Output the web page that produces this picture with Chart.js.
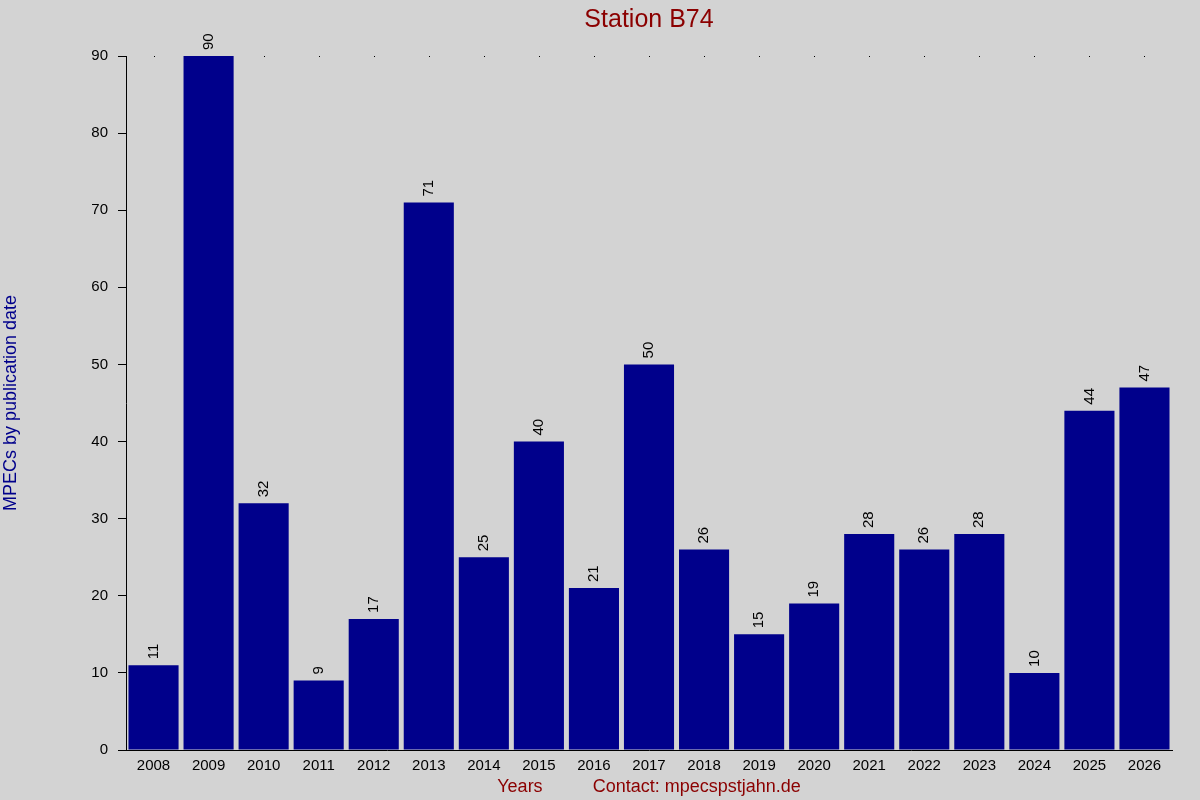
<!DOCTYPE html>
<html>
<head>
<meta charset="utf-8">
<title>Station B74</title>
<script src="https://cdn.jsdelivr.net/npm/chart.js@4"></script>
<style>
  html, body { margin: 0; padding: 0; background: #d3d3d3; }
  #wrap { width: 1200px; height: 800px; }
</style>
</head>
<body>
<div id="wrap"><canvas id="mpecChart" width="1200" height="800"></canvas></div>
<script>
const years = ['2008', '2009', '2010', '2011', '2012', '2013', '2014', '2015', '2016', '2017',
               '2018', '2019', '2020', '2021', '2022', '2023', '2024', '2025', '2026'];
const mpecCounts = [11, 90, 32, 9, 17, 71, 25, 40, 21, 50, 26, 15, 19, 28, 26, 28, 10, 44, 47];
const yTicks = [0, 10, 20, 30, 40, 50, 60, 70, 80, 90];

const FONT = '"Liberation Sans", Arial, sans-serif';

// little dots along the top edge at each category
const topDots = {
    id: 'topDots',
    beforeDatasetsDraw(chart) {
        const x = chart.scales.x, y = chart.scales.y;
        const ctx = chart.ctx;
        ctx.save();
        ctx.fillStyle = '#000';
        const yy = Math.round(y.getPixelForValue(yTicks[yTicks.length - 1]));
        years.forEach((yr, i) => {
            ctx.fillRect(Math.round(x.getPixelForValue(i)), yy, 1, 1);
        });
        ctx.restore();
    }
};

// rotated value labels above bars
const valueLabels = {
    id: 'valueLabels',
    afterDatasetsDraw(chart) {
        const ctx = chart.ctx;
        const meta = chart.getDatasetMeta(0);
        ctx.save();
        ctx.fillStyle = '#000';
        ctx.font = '15px ' + FONT;
        ctx.textAlign = 'left';
        ctx.textBaseline = 'middle';
        meta.data.forEach((bar, i) => {
            ctx.save();
            ctx.translate(bar.x, bar.y - 6);
            ctx.rotate(-Math.PI / 2);
            ctx.fillText(String(mpecCounts[i]), 0, 0);
            ctx.restore();
        });
        ctx.restore();
    }
};

const ctx = document.getElementById('mpecChart').getContext('2d');

new Chart(ctx, {
    type: 'bar',
    data: {
        labels: years,
        datasets: [{
            data: mpecCounts,
            backgroundColor: '#00008b',
            borderWidth: 0,
            barPercentage: 0.91,
            categoryPercentage: 1.0
        }]
    },
    options: {
        responsive: false,
        animation: false,
        layout: { padding: { left: 0, right: 28, top: 0, bottom: 0 } },
        plugins: {
            legend: { display: false },
            tooltip: { enabled: false },
            title: {
                display: true,
                fullSize: false,
                text: 'Station B74',
                color: '#8b0000',
                font: { family: FONT, size: 25, weight: 'normal' },
                padding: { top: 5, bottom: 21 }
            }
        },
        scales: {
            x: {
                grid: { display: false, drawTicks: false },
                border: { display: true, color: '#000', width: 1 },
                ticks: { color: '#000', font: { family: FONT, size: 15 }, padding: 7, maxRotation: 0, autoSkip: false },
                title: {
                    display: true,
                    text: 'Years          Contact: mpecspstjahn.de',
                    color: '#8b0000',
                    font: { family: FONT, size: 18 },
                    padding: { top: 0, bottom: 2 }
                },
                afterFit(scale) { scale.height = 50; }
            },
            y: {
                min: 0,
                max: 90,
                afterBuildTicks(scale) { scale.ticks = yTicks.map(v => ({ value: v })); },
                grid: { drawOnChartArea: false, drawTicks: true, tickLength: 8, color: '#000' },
                border: { display: true, color: '#000', width: 1 },
                ticks: { color: '#000', font: { family: FONT, size: 15 }, padding: 10 },
                title: {
                    display: true,
                    text: 'MPECs by publication date',
                    color: '#00008b',
                    font: { family: FONT, size: 18 },
                    padding: 0
                },
                afterFit(scale) { scale.width = 126; }
            }
        }
    },
    plugins: [topDots, valueLabels]
});
</script>
</body>
</html>
